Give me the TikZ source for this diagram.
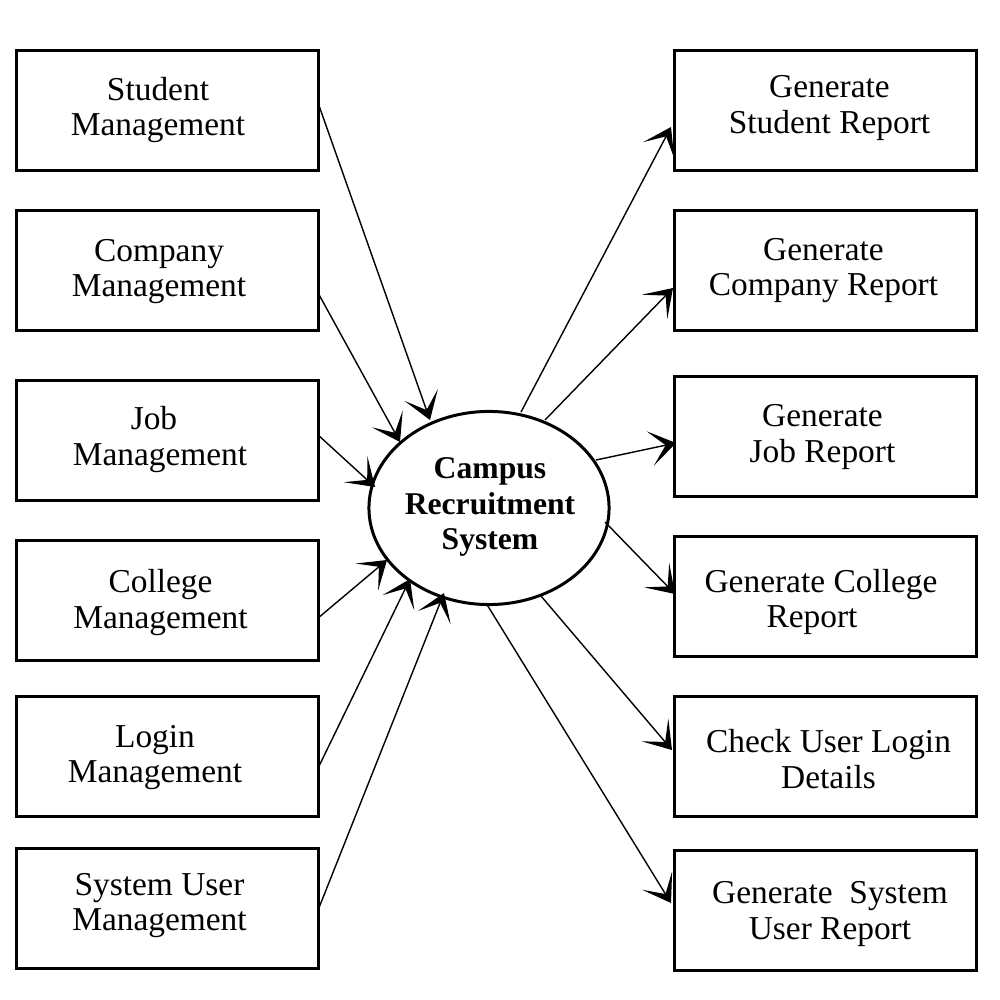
\documentclass[tikz,border=0pt]{standalone}
\usepackage{fontspec}
\setmainfont{Liberation Serif}
\usetikzlibrary{arrows.meta,shapes.geometric,calc}
\begin{document}
\begin{tikzpicture}[x=0.01cm,y=-0.01cm,
  box/.style={draw,line width=0.85pt,minimum width=3.01cm,minimum height=1.19cm,inner sep=0pt,outer sep=0pt},
  txt/.style={align=center,inner sep=0pt,font=\fontsize{9.5pt}{10.2pt}\selectfont},
  conn/.style={line width=0.4pt,-{Stealth[length=7.5pt,width=10pt,inset=4.5pt]}}]
\useasboundingbox (0,0) rectangle (1000,1000);
% centre
\node[draw,ellipse,line width=0.85pt,minimum width=2.4cm,minimum height=1.93cm,inner sep=0pt] (c) at (489,508) {};
\node[txt,font=\fontsize{9pt}{10.2pt}\selectfont\bfseries] (ct) at (490,507) {Campus\\Recruitment\\System};
% left boxes
\node[box] (l1) at (167.5,110.5) {};
\node[box] (l2) at (167.5,270.5) {};
\node[box] (l3) at (167.5,440.5) {};
\node[box] (l4) at (167.5,600.5) {};
\node[box] (l5) at (167.5,756.5) {};
\node[box] (l6) at (167.5,908.5) {};
\node[txt] (l1t) at (158,110) {Student\\Management};
\node[txt] (l2t) at (159,271.5) {Company\\Management};
\node[txt] (l3t) at (160,439.5) {Job\hspace*{0.12cm}\\Management};
\node[txt] (l4t) at (160.5,602.5) {College\\Management};
\node[txt] (l5t) at (155,757.5) {Login\\Management};
\node[txt] (l6t) at (159.5,905.5) {System User\\Management};
% right boxes
\node[box] (r1) at (825.5,110.5) {};
\node[box] (r2) at (825.5,270.5) {};
\node[box] (r3) at (825.5,436.5) {};
\node[box] (r4) at (825.5,596.5) {};
\node[box] (r5) at (825.5,756.5) {};
\node[box] (r6) at (825.5,910.5) {};
\node[txt] (r1t) at (829.5,108) {Generate\\Student Report};
\node[txt] (r2t) at (823.5,270.5) {Generate\\Company Report};
\node[txt] (r3t) at (822.5,437) {Generate\\Job Report};
\node[txt] (r4t) at (821,602) {Generate College\\\hspace*{-0.18cm}Report};
\node[txt] (r5t) at (828.5,759) {Check User Login\\Details};
\node[txt] (r6t) at (830,914) {Generate~ System\\User Report};
% tips
\coordinate (a1) at (430,420);
\coordinate (a2) at (400,442);
\coordinate (a3) at (375,487);
\coordinate (a4) at (387,560);
\coordinate (a5) at (410,579);
\coordinate (a6) at (444,593);
\coordinate (b1) at (671,127);
\coordinate (b2) at (673,288);
\coordinate (b3) at (676,443);
\coordinate (b4) at (675,594);
\coordinate (b5) at (672,750);
\coordinate (b6) at (671,903);
% connectors
\draw[conn] ($(l1.east)+(0,-7.5)$) -- (a1);
\draw[conn] ($(l2.east)+(0,22.5)$) -- (a2);
\draw[conn] ($(l3.east)+(0,-5.5)$) -- (a3);
\draw[conn] ($(l4.east)+(0,17.5)$) -- (a4);
\draw[conn] ($(l5.east)+(0,11.5)$) -- (a5);
\draw[conn] ($(l6.east)+(0,1.5)$) -- (a6);
\draw[conn] ($(c)+(32,-96)$) -- (b1);
\draw[conn] ($(c)+(56,-88)$) -- (b2);
\draw[conn] ($(c)+(107,-48)$) -- (b3);
\draw[conn] ($(c)+(116,14)$) -- (b4);
\draw[conn] ($(c)+(52,88)$) -- (b5);
\draw[conn] ($(c)+(-3,95)$) -- (b6);
\end{tikzpicture}
\end{document}
